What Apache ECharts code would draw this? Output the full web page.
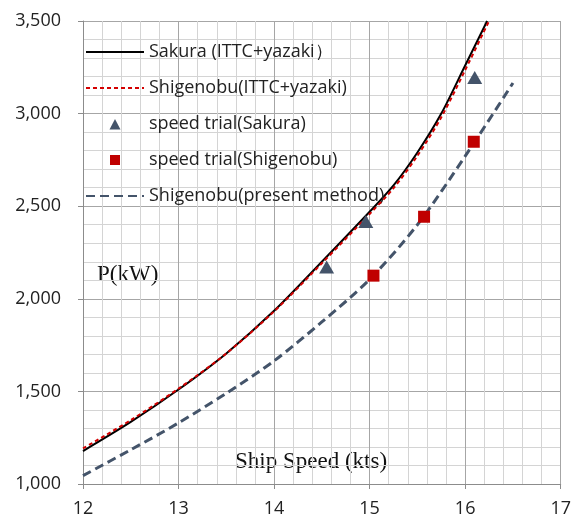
<!DOCTYPE html>
<html>
<head>
<meta charset="utf-8">
<script src="https://cdn.jsdelivr.net/npm/echarts@6/dist/echarts.min.js"></script>
<style>
  html, body { margin: 0; padding: 0; background: #fff; }
  #main { width: 574px; height: 523px; }
</style>
</head>
<body>
<div id="main"></div>
<script>
// 数据
var sakuraSpeed = [12, 12.5, 13, 13.5, 14, 14.5, 15, 15.25, 15.5, 15.75, 16, 16.23];
var sakuraPower = [1178, 1335, 1510, 1705, 1935, 2200, 2470, 2612, 2790, 3000, 3260, 3500];

var shigeSpeed = [12, 12.5, 13, 13.5, 14, 14.5, 15, 15.25, 15.5, 15.75, 16, 16.25];
var shigePower = [1192, 1345, 1515, 1705, 1932, 2192, 2458, 2597, 2772, 2980, 3235, 3500];

var presentSpeed = [12, 12.5, 13, 13.5, 14, 14.5, 15, 15.5, 16, 16.5];
var presentPower = [1045, 1185, 1330, 1490, 1665, 1875, 2105, 2400, 2770, 3165];

var trialSakuraSpeed = [14.55, 14.96, 16.1];
var trialSakuraPower = [2172, 2418, 3195];

var trialShigeSpeed = [15.04, 15.57, 16.09];
var trialShigePower = [2125, 2443, 2848];

var names = [
    'Sakura (ITTC+yazaki\uFF09',
    'Shigenobu(ITTC+yazaki)',
    'speed trial(Sakura)',
    'speed trial(Shigenobu)',
    'Shigenobu(present method)'
];

function pairs(xs, ys) {
    return xs.map(function (x, i) { return [x, ys[i]]; });
}

// 折线图例只显示线，不显示中间的圆点
var hideDot = { color: 'rgba(0,0,0,0)', borderWidth: 0, borderColor: 'rgba(0,0,0,0)' };
// 图例框 58x12，两个 M 点撑开外框，使小图形保持在中间不被拉伸
var triIcon = 'path://M0,0M58,12M23.5,11.5L29,1L34.5,11.5Z';
var rectIcon = 'path://M0,0M58,12M24,1L34,1L34,11L24,11Z';

var myChart = echarts.init(document.getElementById('main'));

var option = {
    backgroundColor: '#fff',
    animation: false,
    grid: { left: 83, right: 13, top: 21, bottom: 39 },
    legend: {
        orient: 'vertical',
        left: 80,
        top: 38,
        itemWidth: 58,
        itemHeight: 12,
        itemGap: 18,
        textStyle: { fontFamily: 'Open Sans', fontSize: 18, color: '#222', lineHeight: 18 },
        data: [
            { name: names[0], itemStyle: hideDot },
            { name: names[1], itemStyle: hideDot },
            { name: names[2], icon: triIcon },
            { name: names[3], icon: rectIcon },
            { name: names[4], itemStyle: hideDot }
        ]
    },
    xAxis: {
        type: 'value',
        min: 12, max: 17, interval: 1,
        axisLine: { lineStyle: { color: '#8c8c8c', width: 1 } },
        axisTick: { show: true, length: 5, lineStyle: { color: '#8c8c8c' } },
        axisLabel: { margin: 16, fontFamily: 'Open Sans', fontSize: 18, color: '#222' },
        splitLine: { show: true, lineStyle: { color: '#a6a6a6', width: 1 } },
        minorTick: { show: false, splitNumber: 5 },
        minorSplitLine: { show: true, lineStyle: { color: '#d4d4d4', width: 1 } }
    },
    yAxis: {
        type: 'value',
        min: 1000, max: 3500, interval: 500,
        axisLine: { show: true, lineStyle: { color: '#8c8c8c', width: 1 } },
        axisTick: { show: true, length: 5, lineStyle: { color: '#8c8c8c' } },
        axisLabel: {
            margin: 22, fontFamily: 'Open Sans', fontSize: 18, color: '#222',
            formatter: function (v) { return v.toLocaleString('en-US'); }
        },
        splitLine: { show: true, lineStyle: { color: '#a6a6a6', width: 1 } },
        minorTick: { show: false, splitNumber: 5 },
        minorSplitLine: { show: true, lineStyle: { color: '#d4d4d4', width: 1 } }
    },
    graphic: [
        {
            type: 'text', left: 97, top: 263,
            style: { text: 'P(kW)', font: '23px "Liberation Serif"', fill: '#111' }
        },
        {
            type: 'text', left: 235, top: 450,
            style: { text: 'Ship Speed (kts)', font: '23px "Liberation Serif"', fill: '#111' }
        }
    ],
    series: [
        {
            name: names[0], type: 'line', smooth: 0.3,
            symbol: 'none', z: 3,
            lineStyle: { color: '#000', width: 2 },
            itemStyle: { color: '#000' },
            data: pairs(sakuraSpeed, sakuraPower)
        },
        {
            name: names[1], type: 'line', smooth: 0.3,
            symbol: 'none', z: 4,
            lineStyle: { color: '#d40000', width: 2, type: [4, 3] },
            itemStyle: { color: '#d40000' },
            data: pairs(shigeSpeed, shigePower)
        },
        {
            name: names[2], type: 'scatter', symbol: 'triangle', symbolSize: [15, 13], z: 5,
            itemStyle: { color: '#44546a', opacity: 1 },
            data: pairs(trialSakuraSpeed, trialSakuraPower)
        },
        {
            name: names[3], type: 'scatter', symbol: 'rect', symbolSize: 12, z: 5,
            itemStyle: { color: '#c00000', opacity: 1 },
            data: pairs(trialShigeSpeed, trialShigePower)
        },
        {
            name: names[4], type: 'line', smooth: 0.3,
            symbol: 'none', z: 3,
            lineStyle: { color: '#44546a', width: 3, type: [9, 5] },
            itemStyle: { color: '#44546a' },
            data: pairs(presentSpeed, presentPower)
        }
    ]
};

myChart.setOption(option);
</script>
</body>
</html>
